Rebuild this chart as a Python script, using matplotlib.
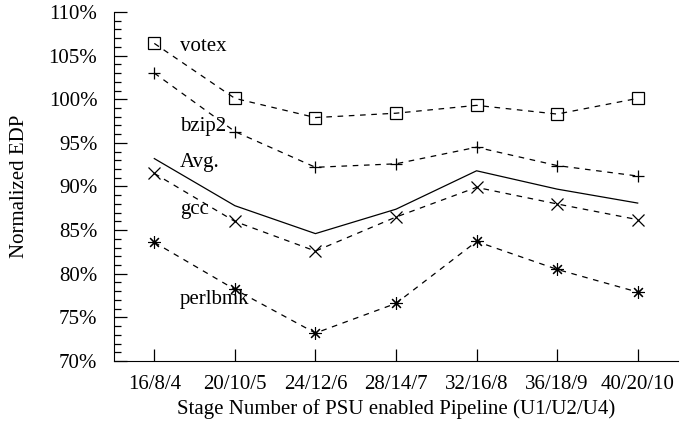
import numpy as np
import matplotlib.pyplot as plt
from matplotlib.ticker import MultipleLocator, FuncFormatter

plt.rcParams['font.family'] = ['Liberation Serif', 'DejaVu Serif']

# stage configurations (U1/U2/U4)
stages = ['16/8/4', '20/10/5', '24/12/6', '28/14/7', '32/16/8', '36/18/9', '40/20/10']

# normalized EDP (%)
votex = [106.4, 100.1, 97.9, 98.4, 99.3, 98.3, 100.1]
bzip2 = [103.0, 96.3, 92.2, 92.6, 94.5, 92.4, 91.2]
avg = [93.2, 87.8, 84.6, 87.4, 91.8, 89.7, 88.1]
gcc = [91.5, 86.0, 82.6, 86.5, 89.9, 88.0, 86.2]
perlbmk = [83.6, 78.2, 73.2, 76.6, 83.7, 80.5, 77.9]

x = np.arange(len(stages))

fig = plt.figure(figsize=(6.97, 4.24), dpi=100)
ax = fig.add_axes([0.1636, 0.1486, 0.8091, 0.8231])

dash = dict(color='black', linewidth=0.9, linestyle=(0, (4.5, 4.5)),
            markersize=9, markeredgewidth=0.9)
ax.plot(x, votex, marker='s', markerfacecolor='none', markeredgecolor='black', **dash)
ax.plot(x, bzip2, marker='+', **dash)
ax.plot(x, avg, color='black', linewidth=0.9)
ax.plot(x, gcc, marker='x', **dash)
ax.plot(x, perlbmk, marker=(8, 2, 0), markersize=9, color='black', linewidth=0.9,
        linestyle=(0, (4.5, 4.5)), markeredgewidth=0.8)

# series labels next to first points
labels = [('votex', 106.0), ('bzip2', 96.9), ('Avg.', 92.8), ('gcc', 87.4), ('perlbmk', 77.0)]
for name, yv in labels:
    ax.text(0.32, yv, name, fontsize=15, va='center', ha='left')

ax.set_xlim(-0.5, 6.5)
ax.set_ylim(70, 110)
ax.set_xticks(x)
ax.set_xticklabels(stages)
ax.yaxis.set_major_locator(MultipleLocator(5))
ax.yaxis.set_minor_locator(MultipleLocator(1))
ax.yaxis.set_major_formatter(FuncFormatter(lambda v, p: '%d%%' % v))

ax.spines['top'].set_visible(False)
ax.spines['right'].set_visible(False)
ax.tick_params(axis='both', which='major', direction='in', length=9, width=0.9, labelsize=15)
ax.tick_params(axis='y', which='major', pad=12)
ax.tick_params(axis='x', which='major', pad=10)
ax.tick_params(axis='y', which='minor', direction='in', length=5, width=0.9)
ax.tick_params(axis='x', which='minor', bottom=False)

ax.set_xlabel('Stage Number of PSU enabled Pipeline (U1/U2/U4)', fontsize=15, labelpad=4)
ax.set_ylabel('Normalized EDP', fontsize=15, labelpad=14)

fig.savefig('out.png', dpi=100)
